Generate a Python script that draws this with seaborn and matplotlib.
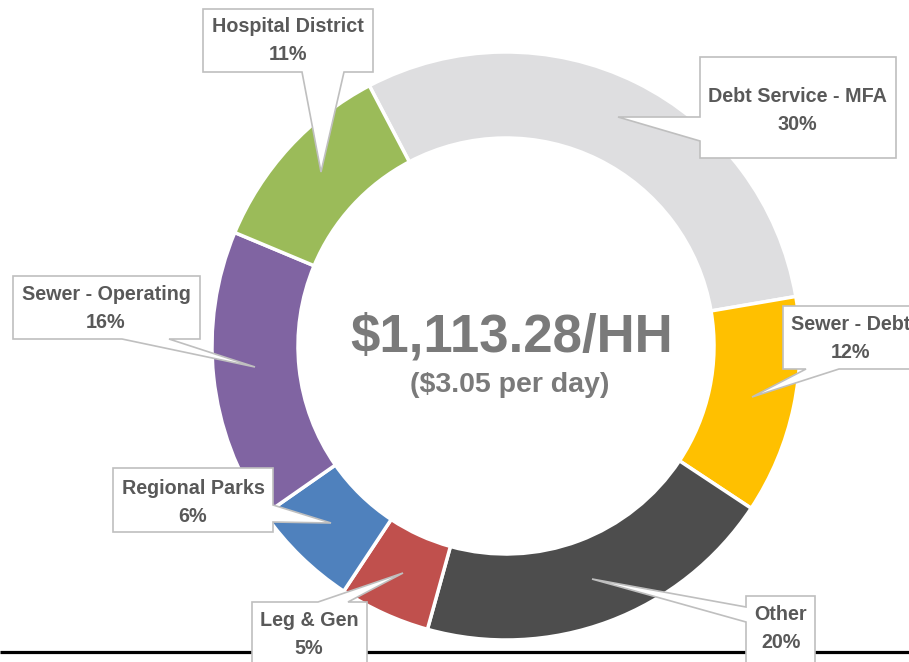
import numpy as np
import pandas as pd
import matplotlib
matplotlib.use("Agg")
import matplotlib.pyplot as plt
from matplotlib.patches import Polygon
import seaborn as sns

sns.set_theme(style="white")
plt.rcParams['font.family'] = ['Liberation Sans', 'DejaVu Sans']

# data (clockwise, starting at the Hospital / Debt Service boundary)
categories = ["Debt Service - MFA", "Sewer - Debt", "Other", "Leg & Gen",
              "Regional Parks", "Sewer - Operating", "Hospital District"]
shares = [30, 12, 20, 5, 6, 16, 11]
slice_colors = ["#DEDEE0", "#FFC000", "#4D4D4D", "#C0504D",
                "#4F81BD", "#8064A2", "#9BBB59"]
total_text = "$1,113.28/HH"
daily_text = "($3.05 per day)"

df = pd.DataFrame({"category": categories, "share": shares})

W, H = 909, 662
fig = plt.figure(figsize=(W / 100, H / 100), dpi=100)
ax = fig.add_axes([0, 0, 1, 1])


def Y(y):  # pixel row (top-down) -> axis coordinate
    return H - y


cx, cy, r_out, ring = 506, 346, 294, 86
ax.pie(df["share"], colors=sns.color_palette(slice_colors), startangle=117.7,
       counterclock=False, radius=r_out, center=(cx, Y(cy)),
       wedgeprops=dict(width=ring, edgecolor="white", linewidth=2.5))

# callout layout: box (x0, y0, x1, y1), pointer side, pointer base, tip, text centre
callouts = {
    "Hospital District": ((203, 9, 373, 72), "bottom", (302, 344), (321, 172), (288, 40)),
    "Debt Service - MFA": ((700, 57, 896, 158), "left", (117, 141), (618, 117), (797, 111)),
    "Sewer - Debt": ((783, 306, 920, 369), "bottom", (806, 839), (752, 397), (851, 339)),
    "Sewer - Operating": ((13, 276, 200, 339), "bottom", (122, 169), (255, 367), (106, 309)),
    "Regional Parks": ((113, 468, 273, 532), "right", (505, 522), (331, 523), (193, 502)),
    "Leg & Gen": ((252, 602, 367, 690), "top", (318, 348), (403, 573), (309, 635)),
    "Other": ((746, 596, 815, 690), "left", (607, 622), (592, 579), (781, 629)),
}


def callout_shape(box, side, base, tip):
    x0, y0, x1, y1 = box
    a, b = base
    if side == "bottom":
        pts = [(x0, y0), (x1, y0), (x1, y1), (b, y1), tip, (a, y1), (x0, y1)]
    elif side == "top":
        pts = [(x0, y0), (a, y0), tip, (b, y0), (x1, y0), (x1, y1), (x0, y1)]
    elif side == "left":
        pts = [(x0, y0), (x1, y0), (x1, y1), (x0, y1), (x0, b), tip, (x0, a)]
    else:
        pts = [(x0, y0), (x1, y0), (x1, a), tip, (x1, b), (x1, y1), (x0, y1)]
    return [(x, Y(y)) for x, y in pts]


# black rule along the bottom
ax.plot([0, W], [Y(651.5), Y(651.5)], color="black", lw=2.3, zorder=3,
        solid_capstyle="butt")

for cat, val in zip(categories, shares):
    box, side, base, tip, (tx, ty) = callouts[cat]
    ax.add_patch(Polygon(callout_shape(box, side, base, tip), closed=True,
                         facecolor="white", edgecolor="#BFBFBF", lw=1.2, zorder=5))
    ax.text(tx, Y(ty - 14), cat, ha="center", va="center", fontsize=14.2,
            fontweight="bold", color="#595959", zorder=6)
    ax.text(tx, Y(ty + 14), f"{val}%", ha="center", va="center", fontsize=14.2,
            fontweight="bold", color="#595959", zorder=6)

ax.text(512, Y(338), total_text, ha="center", va="center", fontsize=38,
        fontweight="bold", color="#7A7A7A")
ax.text(510, Y(385), daily_text, ha="center", va="center", fontsize=20.5,
        fontweight="bold", color="#7A7A7A")

ax.set_xlim(0, W)
ax.set_ylim(0, H)
ax.set_aspect("equal")
ax.axis("off")

fig.savefig("out.png", dpi=100)
